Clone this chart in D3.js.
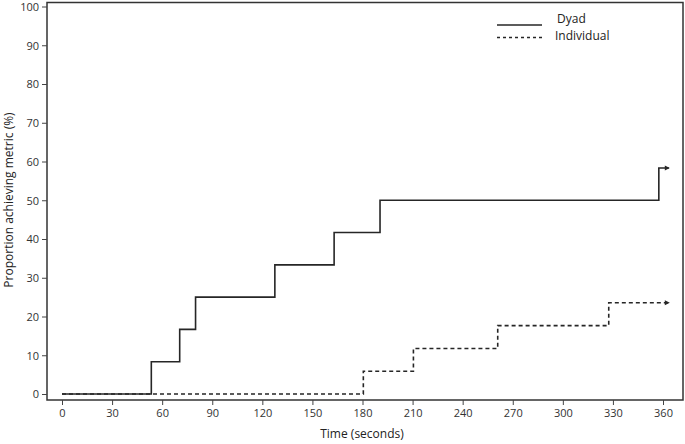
<!DOCTYPE html>
<html><head><meta charset="utf-8">
<script src="https://cdn.jsdelivr.net/npm/d3@7"></script>
<style>body{margin:0;background:#fff}svg{display:block}</style>
</head><body>
<svg id="c" width="685" height="444"></svg>
<script>
const xTicks = [0,30,60,90,120,150,180,210,240,270,300,330,360];
const yTicks = [0,10,20,30,40,50,60,70,80,90,100];
// step data: time (s), proportion (%)
const dyadTimes  = [0, 53.5, 70.5, 80, 127.5, 163, 190.5, 357.5, 363.5];
const dyadValues = [0, 8.33, 16.67, 25, 33.33, 41.67, 50, 58.33, 58.33];
const indTimes   = [0, 180.5, 210.5, 261, 327.5, 363.5];
const indValues  = [0, 5.88, 11.76, 17.65, 23.53, 23.53];
const seriesNames = ["Dyad","Individual"];

const svg = d3.select("#c");
const x = d3.scaleLinear().domain([0,360]).range([62,663]);
const y = d3.scaleLinear().domain([0,100]).range([394,6.5]);
const font = "'Open Sans', sans-serif";
const col = "#262626";

// frame
svg.append("rect").attr("x",47).attr("y",2.5).attr("width",636).attr("height",397.5)
  .attr("fill","none").attr("stroke","#333").attr("stroke-width",1.5);

// axes
const xa = svg.append("g").attr("transform","translate(0,400)")
  .call(d3.axisBottom(x).tickValues(xTicks).tickSize(5).tickPadding(4));
xa.select(".domain").remove();
const ya = svg.append("g").attr("transform","translate(47,0)")
  .call(d3.axisLeft(y).tickValues(yTicks).tickSize(5).tickPadding(3));
ya.select(".domain").remove();
[xa,ya].forEach(g=>{
  g.selectAll("line").attr("stroke","#444");
  g.selectAll("text").attr("font-family",font).attr("font-size",11).attr("fill","#333");
});
ya.selectAll("text").attr("dy","0.34em");

svg.append("text").attr("x",362).attr("y",438).attr("text-anchor","middle")
  .attr("font-family",font).attr("font-size",12).attr("fill","#222").text("Time (seconds)");
svg.append("text").attr("transform","translate(13,200) rotate(-90)").attr("text-anchor","middle")
  .attr("font-family",font).attr("font-size",12).attr("fill","#222").text("Proportion  achieving metric (%)");

const line = d3.line().curve(d3.curveStepAfter).x(d=>x(d[0])).y(d=>y(d[1]));
const dyad = dyadTimes.map((t,i)=>[t,dyadValues[i]]);
const ind = indTimes.map((t,i)=>[t,indValues[i]]);

svg.append("path").attr("d",line(ind)).attr("fill","none").attr("stroke",col)
  .attr("stroke-width",1.6).attr("stroke-dasharray","4,3");
svg.append("path").attr("d",line(dyad)).attr("fill","none").attr("stroke",col)
  .attr("stroke-width",1.6);

// arrow heads
[dyad, ind].forEach(s=>{
  const e = s[s.length-1];
  const ex = x(e[0]), ey = y(e[1]);
  svg.append("path").attr("d",`M${ex+1},${ey} L${ex-4},${ey-2.5} L${ex-4},${ey+2.5} Z`).attr("fill",col);
});

// legend
const leg = svg.append("g");
leg.append("line").attr("x1",497).attr("x2",542).attr("y1",25).attr("y2",25)
  .attr("stroke",col).attr("stroke-width",1.3);
leg.append("line").attr("x1",497).attr("x2",542).attr("y1",37.5).attr("y2",37.5)
  .attr("stroke",col).attr("stroke-width",1.3).attr("stroke-dasharray","3,3");
seriesNames.forEach((n,i)=>{
  leg.append("text").attr("x",i===0?557:555).attr("y",23+i*17)
    .attr("text-anchor","start").attr("font-family",font).attr("font-size",12).attr("fill","#222").text(n);
});
</script>
</body></html>
